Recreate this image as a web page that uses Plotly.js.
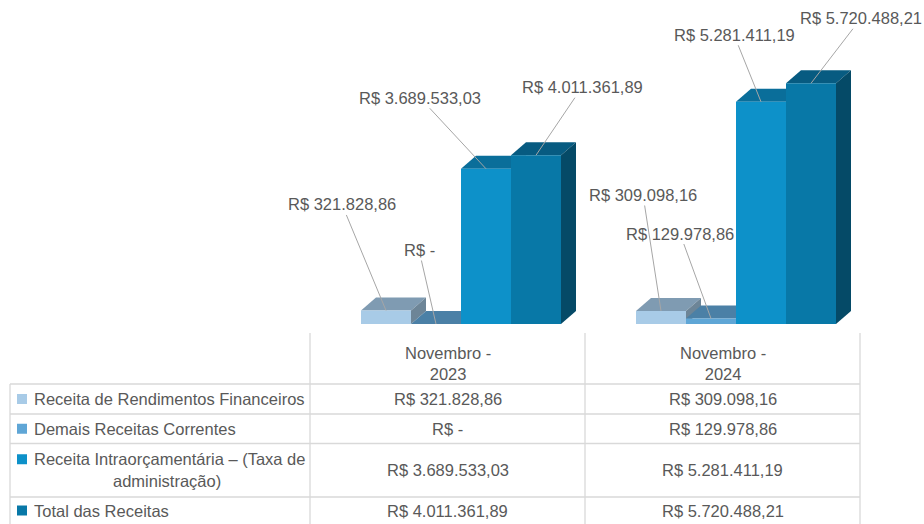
<!DOCTYPE html>
<html>
<head>
<meta charset="utf-8">
<script src="https://cdn.plot.ly/plotly-3.0.1.min.js"></script>
<style>html,body{margin:0;padding:0;background:#fff;}#chart{width:924px;height:524px;}</style>
</head>
<body>
<div id="chart"></div>
<script>
// ---------- data ----------
const categories = ["Novembro -<br>2023", "Novembro -<br>2024"];
const seriesNames = [
  "Receita de Rendimentos Financeiros",
  "Demais Receitas Correntes",
  "Receita Intraorçamentária – (Taxa de administração)",
  "Total das Receitas"
];
const rendimentosFinanceiros = [321828.86, 309098.16];
const demaisReceitas = [0, 129978.86];
const receitaIntra = [3689533.03, 5281411.19];
const totalReceitas = [4011361.89, 5720488.21];
const seriesValues = [rendimentosFinanceiros, demaisReceitas, receitaIntra, totalReceitas];

// ---------- styling ----------
const frontColors = ["#a8cbe7", "#5fa6d6", "#0d91c9", "#0878a7"];
const topColors   = ["#7f9bb2", "#4b80a6", "#0a6e9a", "#075b81"];
const sideColors  = ["#6d8597", "#3f6c8c", "#075d83", "#054a67"];
const textColor = "#595959";
const gridLine = "#d9d9d9";
const FONT = "Liberation Sans, Arial, sans-serif";
const LABEL_SIZE = 16.5, TABLE_SIZE = 16.5;

// label offsets (pixels) of data labels from bar tops [series][category]
const labelOffsets = [
  [[-44, -106], [-18, -116]],
  [[-17, -74],  [-31, -85]],
  [[-66, -71],  [-27, -67]],
  [[46, -68],   [50, -65]]
];

// ---------- geometry ----------
const W = 924, H = 524;
const M = {l: 296, r: 23, t: 0, b: 200};
const plotW = W - M.l - M.r, plotH = H - M.t - M.b;
const xRange = [-0.6, 1.6];
const yRange = [0, 7.7e6];
const pxPerX = plotW / (xRange[1] - xRange[0]);
const pxPerY = plotH / (yRange[1] - yRange[0]);
const bargap = 1 - 200 / pxPerX;
const nS = seriesValues.length;
const bw = (1 - bargap) / nS;
const dX = 15 / pxPerX;   // depth offset in x units
const dY = 13 / pxPerY;   // depth offset in y units

function brl(v) {
  if (v === 0) return "R$ -";
  const fixed = v.toFixed(2);
  let [intPart, dec] = fixed.split(".");
  intPart = intPart.replace(/\B(?=(\d{3})+(?!\d))/g, ".");
  return "R$ " + intPart + "," + dec;
}
const px2x = p => (p - M.l) / plotW;
const px2y = p => (M.t + plotH - p) / plotH;

// ---------- traces (front faces) ----------
const xIdx = categories.map((c, i) => i);
const traces = seriesValues.map((vals, s) => ({
  type: "bar",
  name: seriesNames[s],
  x: xIdx,
  y: vals,
  marker: {color: frontColors[s], line: {width: 0}},
  hoverinfo: "skip",
  showlegend: false
}));

// ---------- 3D faces ----------
const shapes = [];
xIdx.forEach(c => {
  seriesValues.forEach((vals, s) => {
    const v = vals[c];
    const left = c - (1 - bargap) / 2 + s * bw;
    const right = left + bw;
    shapes.push({
      type: "path", xref: "x", yref: "y", layer: "below",
      path: `M ${left} ${v} L ${right} ${v} L ${right + dX} ${v + dY} L ${left + dX} ${v + dY} Z`,
      fillcolor: topColors[s], line: {width: 0}
    });
    if (v > 0) {
      shapes.push({
        type: "path", xref: "x", yref: "y", layer: "below",
        path: `M ${right} 0 L ${right} ${v} L ${right + dX} ${v + dY} L ${right + dX} ${dY} Z`,
        fillcolor: sideColors[s], line: {width: 0}
      });
    }
  });
});

// ---------- data labels ----------
const annotations = [];
xIdx.forEach(c => {
  seriesValues.forEach((vals, s) => {
    const left = c - (1 - bargap) / 2 + s * bw;
    annotations.push({
      x: left + bw / 2, y: vals[c], xref: "x", yref: "y",
      text: brl(vals[c]),
      showarrow: true, arrowhead: 0, arrowwidth: 1, arrowcolor: "#a6a6a6",
      ax: labelOffsets[s][c][0], ay: labelOffsets[s][c][1],
      font: {family: FONT, size: LABEL_SIZE, color: textColor}
    });
  });
});

// ---------- data table ----------
const tbl = {
  left: 10, col1: 310, col2: 585, right: 860,
  headTop: 333, rows: [384, 414, 443.5, 497, 524]
};
const lineStyle = {color: gridLine, width: 1.3};
[tbl.col1, tbl.col2, tbl.right].forEach(xp => {
  shapes.push({type: "line", xref: "paper", yref: "paper",
    x0: px2x(xp), x1: px2x(xp), y0: px2y(tbl.headTop), y1: px2y(H), line: lineStyle});
});
shapes.push({type: "line", xref: "paper", yref: "paper",
  x0: px2x(tbl.left), x1: px2x(tbl.left), y0: px2y(tbl.rows[0]), y1: px2y(H), line: lineStyle});
tbl.rows.slice(0, 4).forEach(yp => {
  shapes.push({type: "line", xref: "paper", yref: "paper",
    x0: px2x(tbl.left), x1: px2x(tbl.right), y0: px2y(yp), y1: px2y(yp), line: lineStyle});
});
const colCenters = [(tbl.col1 + tbl.col2) / 2, (tbl.col2 + tbl.right) / 2];
categories.forEach((cat, c) => {
  annotations.push({xref: "paper", yref: "paper", x: px2x(colCenters[c]), y: px2y(363),
    text: cat, showarrow: false, xanchor: "center", yanchor: "middle", align: "center",
    font: {family: FONT, size: TABLE_SIZE, color: textColor}});
});
const rowMid = seriesValues.map((v, s) => (tbl.rows[s] + tbl.rows[s + 1]) / 2);
seriesValues.forEach((vals, s) => {
  const mid = rowMid[s];
  const name = seriesNames[s];
  let lineY = mid;
  if (s === 2) {
    const split = name.indexOf("(Taxa de") + "(Taxa de".length;
    const l1 = name.slice(0, split), l2 = name.slice(split + 1);
    lineY = mid - 11;
    annotations.push({xref: "paper", yref: "paper", x: px2x(32), y: px2y(lineY),
      text: l1, showarrow: false, xanchor: "left", yanchor: "middle",
      font: {family: FONT, size: TABLE_SIZE, color: textColor}});
    annotations.push({xref: "paper", yref: "paper", x: px2x(167), y: px2y(mid + 11),
      text: l2, showarrow: false, xanchor: "center", yanchor: "middle",
      font: {family: FONT, size: TABLE_SIZE, color: textColor}});
  } else {
    annotations.push({xref: "paper", yref: "paper", x: px2x(32), y: px2y(mid),
      text: name, showarrow: false, xanchor: "left", yanchor: "middle",
      font: {family: FONT, size: TABLE_SIZE, color: textColor}});
  }
  shapes.push({type: "rect", xref: "paper", yref: "paper",
    x0: px2x(17), x1: px2x(27), y0: px2y(lineY - 5), y1: px2y(lineY + 5),
    fillcolor: frontColors[s], line: {width: 0}});
  vals.forEach((v, c) => {
    annotations.push({xref: "paper", yref: "paper", x: px2x(colCenters[c]), y: px2y(mid),
      text: brl(v), showarrow: false, xanchor: "center", yanchor: "middle",
      font: {family: FONT, size: TABLE_SIZE, color: textColor}});
  });
});

const layout = {
  width: W, height: H,
  margin: M,
  paper_bgcolor: "#ffffff", plot_bgcolor: "rgba(0,0,0,0)",
  barmode: "group", bargap: bargap, bargroupgap: 0,
  showlegend: false,
  xaxis: {range: xRange, visible: false, fixedrange: true},
  yaxis: {range: yRange, visible: false, fixedrange: true},
  shapes: shapes,
  annotations: annotations,
  font: {family: FONT, color: textColor}
};

Plotly.newPlot("chart", traces, layout, {staticPlot: true, displayModeBar: false});
</script>
</body>
</html>
